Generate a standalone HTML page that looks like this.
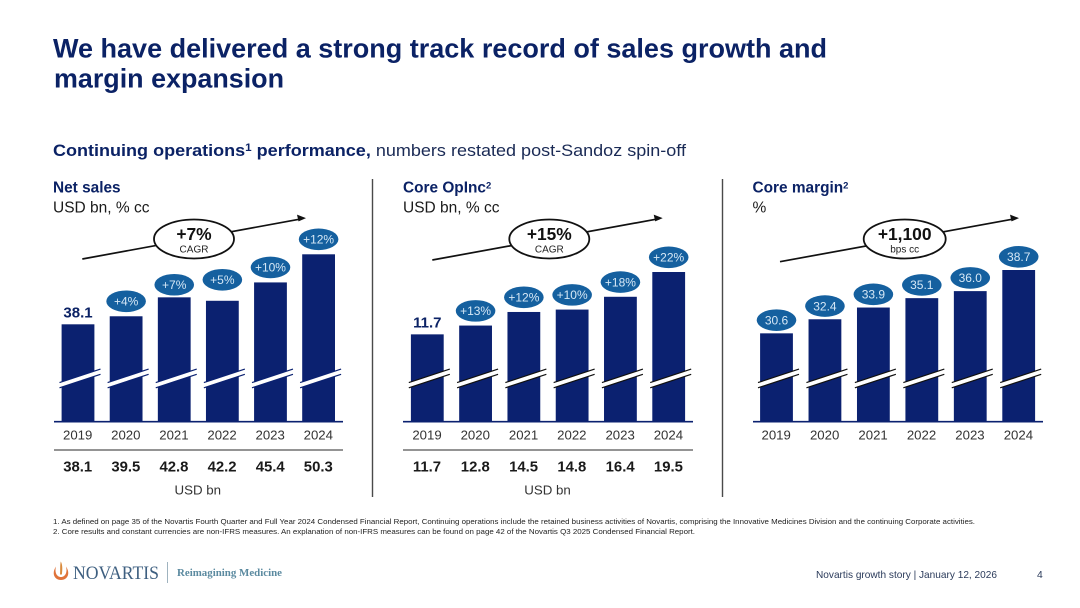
<!DOCTYPE html>
<html lang="en">
<head>
<meta charset="utf-8">
<title>Novartis sales growth and margin expansion</title>
<style>
html,body{margin:0;padding:0;background:#fff;}
svg{display:block;font-family:"Liberation Sans",Arial,sans-serif;}
</style>
</head>
<body>
<svg id="slide" xmlns="http://www.w3.org/2000/svg" width="1080" height="608" viewBox="0 0 1080 608">
  <rect x="0" y="0" width="1080" height="608" fill="#ffffff"/>
  <text x="53" y="57.5" font-size="27" font-weight="700" fill="#0b2265" textLength="774" lengthAdjust="spacingAndGlyphs">We have delivered a strong track record of sales growth and</text>
  <text x="54" y="87.3" font-size="27" font-weight="700" fill="#0b2265" textLength="230" lengthAdjust="spacingAndGlyphs">margin expansion</text>
  <text x="53" y="156" font-size="17" fill="#1a2a55" textLength="633" lengthAdjust="spacingAndGlyphs"><tspan font-weight="700" fill="#0b2265">Continuing operations<tspan dy="-5" font-size="11">1</tspan><tspan dy="5"> performance,</tspan></tspan> numbers restated post-Sandoz spin-off</text>

  <line x1="372.5" y1="179" x2="372.5" y2="497" stroke="#4a4a4a" stroke-width="1.4"/>
  <line x1="722.5" y1="179" x2="722.5" y2="497" stroke="#4a4a4a" stroke-width="1.4"/>

  <g id="charts"></g>

  <text x="53" y="524" font-size="7.4" fill="#222" textLength="922" lengthAdjust="spacingAndGlyphs">1. As defined on page 35 of the Novartis Fourth Quarter and Full Year 2024 Condensed Financial Report, Continuing operations include the retained business activities of Novartis, comprising the Innovative Medicines Division and the continuing Corporate activities.</text>
  <text x="53" y="534" font-size="7.4" fill="#222" textLength="642" lengthAdjust="spacingAndGlyphs">2. Core results and constant currencies are non-IFRS measures. An explanation of non-IFRS measures can be found on page 42 of the Novartis Q3 2025 Condensed Financial Report.</text>

  <g>
    <path d="M56 566.5 C51 574 55 580 61 580 C67 580 71 574 66 566.5 C67.5 572 65.5 577 61 577 C56.5 577 54.5 572 56 566.5 Z" fill="#e0733a"/>
    <path d="M60.8 561.5 C62.8 565 62.4 570 61.9 574.5 L60 574.5 C60.4 570 59.8 565.5 60.8 561.5 Z" fill="#d98a3c"/>
    <text x="73" y="579" font-family="'Liberation Serif',serif" font-size="19" fill="#3e5f80" textLength="86" lengthAdjust="spacingAndGlyphs">NOVARTIS</text>
    <line x1="167.5" y1="562" x2="167.5" y2="583" stroke="#9fb3bf" stroke-width="1"/>
    <text x="177" y="576" font-family="'Liberation Serif',serif" font-size="11" font-weight="700" fill="#5b8aa0" textLength="105" lengthAdjust="spacingAndGlyphs">Reimagining Medicine</text>
  </g>

  <text x="816" y="578" font-size="10.3" fill="#2a3a5a" textLength="181" lengthAdjust="spacingAndGlyphs">Novartis growth story | January 12, 2026</text>
  <text x="1037" y="578" font-size="10.3" fill="#2a3a5a">4</text>
</svg>

<script>
const years = ["2019", "2020", "2021", "2022", "2023", "2024"];
const salesValues = [38.1, 39.5, 42.8, 42.2, 45.4, 50.3];
const salesGrowth = ["", "+4%", "+7%", "+5%", "+10%", "+12%"];
const opincValues = [11.7, 12.8, 14.5, 14.8, 16.4, 19.5];
const opincGrowth = ["", "+13%", "+12%", "+10%", "+18%", "+22%"];
const marginValues = [30.6, 32.4, 33.9, 35.1, 36.0, 38.7];
const marginLabels = ["30.6", "32.4", "33.9", "35.1", "36.0", "38.7"];

const NS = "http://www.w3.org/2000/svg";
const root = document.getElementById("charts");
const BASE_Y = 421.7;

function make(parent, tag, attrs, text) {
  const el = document.createElementNS(NS, tag);
  for (const k in attrs) el.setAttribute(k, attrs[k]);
  if (text !== undefined) el.textContent = text;
  parent.appendChild(el);
  return el;
}

function yAxis(domainLow, domainHigh, rangeTop) {
  return function (v) {
    return BASE_Y - (v - domainLow) / (domainHigh - domainLow) * (BASE_Y - rangeTop);
  };
}

function xAxis(first, last, count) {
  return function (i) {
    return first + (last - first) * i / (count - 1);
  };
}

function drawPanel(cfg) {
  const g = make(root, "g", {});
  
  

  const head = make(g, "text", {x: cfg.headX, y: 192.5, "font-size": 15.4, "font-weight": 700, fill: "#0b2265"});
  
  
  make(head, "tspan", {}, cfg.title);
  if (cfg.titleSup) {
    make(head, "tspan", {dy: -4, "font-size": 9.5}, cfg.titleSup);
  }
  const unit = make(g, "text", {x: cfg.headX, y: 212.3, "font-size": 15.5, fill: "#1a1a1a"}, cfg.unit);
  
  

  const trend = make(g, "line", {x1: cfg.arrow[0], y1: cfg.arrow[1], x2: cfg.arrow[2], y2: cfg.arrow[3], stroke: "#111", "stroke-width": 1.7});
  
  
  const ax = cfg.arrow[2], ay = cfg.arrow[3];
  const head2 = make(g, "polygon", {points: (ax + 3) + "," + (ay - 0.5) + " " + (ax - 6) + "," + (ay - 4) + " " + (ax - 4.5) + "," + (ay + 2.8), fill: "#111"});
  
  
  const oval = make(g, "ellipse", {cx: cfg.oval[0], cy: 239, rx: cfg.oval[1], ry: 19.5, fill: "#fff", stroke: "#111", "stroke-width": 1.8});
  
  
  const big = make(g, "text", {x: cfg.oval[0], y: 240, "text-anchor": "middle", "font-size": 17.4, "font-weight": 700, fill: "#111"}, cfg.callout);
  
  
  const small = make(g, "text", {x: cfg.oval[0], y: 252.5, "text-anchor": "middle", "font-size": 10, fill: "#222"}, cfg.calloutSub);
  
  

  const x = xAxis(cfg.xFirst, cfg.xLast, years.length);
  const y = yAxis(cfg.domainLow, cfg.domainHigh, cfg.rangeTop);
  const barW = 32.8;

  cfg.values.forEach(function (v, i) {
    const cx = x(i);
    const top = y(v);
    const bar = make(g, "rect", {x: cx - barW / 2, y: top, width: barW, height: BASE_Y - top, fill: "#0b2170"});
    
    

    const x1 = cx - 18.5, x2 = cx + 22.5, y1 = 385.2, y2 = 371.7;
    const gap = make(g, "polygon", {points: x1 + "," + (y1 - 2.5) + " " + x2 + "," + (y2 - 2.5) + " " + x2 + "," + (y2 + 2.5) + " " + x1 + "," + (y1 + 2.5), fill: "#fff"});
    
    
    const edgeA = make(g, "line", {x1: x1, y1: y1 - 2.6, x2: x2, y2: y2 - 2.6, stroke: cfg.breakColor, "stroke-width": 1.2});
    
    
    const edgeB = make(g, "line", {x1: x1, y1: y1 + 2.6, x2: x2, y2: y2 + 2.6, stroke: cfg.breakColor, "stroke-width": 1.2});
    
    

    const yearLabel = make(g, "text", {x: cx - 0.3, y: 439.7, "text-anchor": "middle", "font-size": 13.2, fill: "#333"}, years[i]);
    
    

    if (cfg.showRow) {
      const rowVal = make(g, "text", {x: cx - 0.3, y: 471.3, "text-anchor": "middle", "font-size": 14.9, "font-weight": 700, fill: "#1a1a1a"}, v.toFixed(1));
      
      
    }

    const label = cfg.labels[i];
    if (label) {
      const nudge = cfg.pillNudge[years[i]] || 0;
      const cy = top - cfg.pillGap + nudge;
      const pill = make(g, "ellipse", {cx: cx, cy: cy, rx: 19.8, ry: 10.8, fill: "#15609f"});
      
      
      const pillText = make(g, "text", {x: cx, y: cy + 4.2, "text-anchor": "middle", "font-size": 12, fill: "#d6e8f6"}, label);
      
      
    } else {
      const startVal = make(g, "text", {x: cx, y: top - 7, "text-anchor": "middle", "font-size": 15, "font-weight": 700, fill: "#0b2265"}, v.toFixed(1));
      
      
    }
  });

  const axisLine = make(g, "line", {x1: cfg.axisFrom, y1: BASE_Y, x2: cfg.axisTo, y2: BASE_Y, stroke: "#0b2170", "stroke-width": 1.6});
  
  

  if (cfg.showRow) {
    const rule = make(g, "line", {x1: cfg.axisFrom, y1: 450, x2: cfg.axisTo, y2: 450, stroke: "#555", "stroke-width": 1.3});
    
    
    const rowUnit = make(g, "text", {x: (cfg.xFirst + cfg.xLast) / 2 - 0.5, y: 494.5, "text-anchor": "middle", "font-size": 13.3, fill: "#333"}, "USD bn");
    
    
  }
}

drawPanel({
  title: "Net sales", titleSup: "", unit: "USD bn, % cc", headX: 53,
  values: salesValues, labels: salesGrowth,
  xFirst: 78, xLast: 318.6, axisFrom: 54, axisTo: 343,
  domainLow: 21.13, domainHigh: 50.3, rangeTop: 254.3,
  pillGap: 15, pillNudge: {"2021": 2.4, "2022": -6},
  arrow: [82.3, 259, 303, 218.6], oval: [194, 40], callout: "+7%", calloutSub: "CAGR",
  breakColor: "#0b2170", showRow: true
});
drawPanel({
  title: "Core OpInc", titleSup: "2", unit: "USD bn, % cc", headX: 403,
  values: opincValues, labels: opincGrowth,
  xFirst: 427.3, xLast: 668.7, axisFrom: 403, axisTo: 693,
  domainLow: 0.775, domainHigh: 19.5, rangeTop: 272,
  pillGap: 14.7, pillNudge: {},
  arrow: [432.3, 260, 659.7, 218.6], oval: [549.3, 40], callout: "+15%", calloutSub: "CAGR",
  breakColor: "#111", showRow: true
});
drawPanel({
  title: "Core margin", titleSup: "2", unit: "%", headX: 752.5,
  values: marginValues, labels: marginLabels,
  xFirst: 776.5, xLast: 1018.7, axisFrom: 753, axisTo: 1043,
  domainLow: 19.3, domainHigh: 38.7, rangeTop: 270,
  pillGap: 13.2, pillNudge: {},
  arrow: [780, 261.7, 1016, 218.6], oval: [904.7, 41], callout: "+1,100", calloutSub: "bps cc",
  breakColor: "#111", showRow: false
});
</script>
</body>
</html>
